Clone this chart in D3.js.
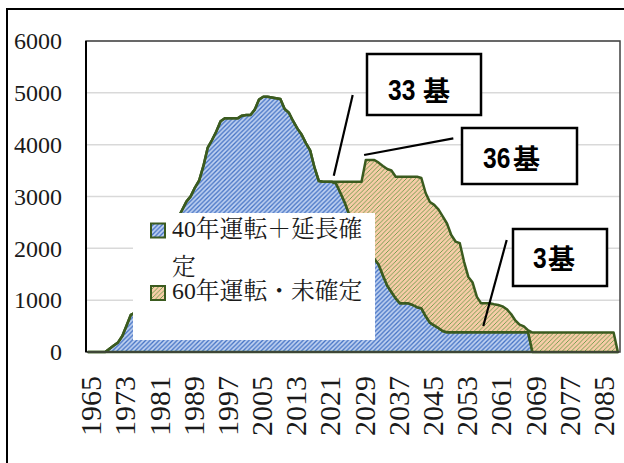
<!DOCTYPE html>
<html>
<head>
<meta charset="utf-8">
<script src="https://cdn.jsdelivr.net/npm/d3@7"></script>
<style>
  body { margin: 0; background: #fff; }
  .serif { font-family: "Liberation Serif", "Noto Serif CJK JP", serif; }
</style>
</head>
<body>
<svg id="chart" width="624" height="463"></svg>
<script>
// years on the category axis
const firstYear = 1965, lastYear = 2089;
const years = d3.range(firstYear, lastYear + 1);

// 40年運転＋延長確定 (万kW)
const blue = [
  0, 0, 0, 0, 0,             // 1965
  62, 125, 185, 309, 511,    // 1970
  717, 760, 880, 1180, 1500, // 1975
  1560, 1620, 1750, 1950, 2280,
  2460, 2580, 2740, 2901, 3003,
  3173, 3312, 3594, 3945, 4090, // 1990
  4255, 4452, 4508, 4508, 4508,
  4508, 4560, 4572, 4572, 4676, // 2000
  4871, 4925, 4925, 4909, 4894,
  4880, 4687, 4616, 4452, 4309, // 2010
  4190, 4026, 3883, 3555, 3299,
  3285, 3285, 3285, 3254, 3081, // 2020
  2899, 2681, 2410, 2250, 2100,
  1980, 1880, 1800, 1688, 1480, // 2030
  1283, 1157, 1034, 939, 939,
  939, 907, 864, 845, 694,      // 2040
  567, 513, 463, 405, 380,
  380, 380, 380, 380, 380,      // 2050
  380, 380, 380, 380, 380,
  380, 380, 380, 380, 380,      // 2060
  380, 380, 380, 380, 0,
  0, 0, 0, 0, 0,                // 2070
  0, 0, 0, 0, 0,
  0, 0, 0, 0, 0,                // 2080
  0, 0, 0, 0, 0
];

// 60年運転・未確定 (万kW)
const orange = [
  0, 0, 0, 0, 0,
  0, 0, 0, 0, 0,
  0, 0, 0, 0, 0,
  0, 0, 0, 0, 0,
  0, 0, 0, 0, 0,
  0, 0, 0, 0, 0,
  0, 0, 0, 0, 0,
  0, 0, 0, 0, 0,
  0, 0, 0, 0, 0,
  0, 0, 0, 0, 0,
  0, 0, 0, 0, 0,
  0, 0, 0, 31, 204,             // 2020
  386, 604, 875, 1035, 1185,
  1724, 1824, 1904, 1965, 2110, // 2030
  2247, 2344, 2348, 2443, 2443,
  2443, 2475, 2518, 2511, 2373, // 2040
  2326, 2325, 2287, 2213, 2099,
  1877, 1751, 1719, 1360, 1069, // 2050
  959, 683, 559, 559, 559,
  540, 527, 500, 446, 353,      // 2060
  228, 149, 116, 37, 375,
  375, 375, 375, 375, 375,      // 2070
  375, 375, 375, 375, 375,
  375, 375, 375, 375, 375,      // 2080
  375, 375, 375, 375, 0
];

const seriesNames = ["40年運転＋延長確定", "60年運転・未確定"];
const yTicks = [0, 1000, 2000, 3000, 4000, 5000, 6000];
const xTickYears = [1965, 1973, 1981, 1989, 1997, 2005, 2013, 2021, 2029, 2037, 2045, 2053, 2061, 2069, 2077, 2085];

// callouts: number, counter word, year and value the pointer touches
const calloutNum = ["33", "36", "3"];
const calloutWord = ["基", "基", "基"];
const calloutYear = [2022.5, 2029.6, 2057.5];
const calloutValue = [3400, 3800, 500];

const svg = d3.select("#chart");
const plot = { left: 86, right: 620, top: 41, bottom: 352 };

const x = d3.scalePoint().domain(years).range([plot.left, plot.right]).padding(0.5);
const xc = yr => x(firstYear) + (yr - firstYear) * x.step();
const y = d3.scaleLinear().domain([0, 6000]).range([plot.bottom, plot.top]);

const table = years.map((yr, i) => ({ year: yr, blue: blue[i], orange: orange[i] }));
const stacked = d3.stack().keys(["blue", "orange"])(table);

// hatch patterns
const defs = svg.append("defs");
function hatch(id, bg, fg, w) {
  const s = 4.5;
  const p = defs.append("pattern").attr("id", id)
    .attr("patternUnits", "userSpaceOnUse").attr("width", s).attr("height", s);
  p.append("rect").attr("width", s).attr("height", s).attr("fill", bg);
  p.append("path")
    .attr("d", `M-1,1 L1,-1 M0,${s} L${s},0 M${s - 1},${s + 1} L${s + 1},${s - 1}`)
    .attr("stroke", fg).attr("stroke-width", w);
}
hatch("hatchBlue", "#bfd1f1", "#4472c4", 1.3);
hatch("hatchOrange", "#f8cca8", "#6b9a48", 0.9);
const fills = ["url(#hatchBlue)", "url(#hatchOrange)"];
const outline = "#3b5b1f";

svg.append("rect").attr("width", 624).attr("height", 463).attr("fill", "#fff");

// gridlines
svg.append("g").selectAll("line").data(yTicks.filter(d => d > 0)).join("line")
  .attr("x1", plot.left).attr("x2", plot.right)
  .attr("y1", d => y(d)).attr("y2", d => y(d))
  .attr("stroke", "#d9d9d9").attr("stroke-width", 1.5);

// areas
const area = d3.area()
  .x(d => x(d.data.year))
  .y0(d => y(d[0]))
  .y1(d => y(d[1]));

svg.append("g").selectAll("path").data(stacked).join("path")
  .attr("d", area)
  .attr("fill", (d, i) => fills[i])
  .attr("stroke", outline)
  .attr("stroke-width", 2.5)
  .attr("stroke-linejoin", "round");

// plot frame
svg.append("rect")
  .attr("x", plot.left).attr("y", plot.top)
  .attr("width", plot.right - plot.left).attr("height", plot.bottom - plot.top)
  .attr("fill", "none").attr("stroke", "#404040").attr("stroke-width", 1.5);
svg.append("line")
  .attr("x1", plot.left).attr("x2", plot.left).attr("y1", plot.top).attr("y2", plot.bottom)
  .attr("stroke", "#000").attr("stroke-width", 2);

// y axis
const gy = svg.append("g").attr("transform", `translate(${plot.left},0)`)
  .call(d3.axisLeft(y).tickValues(yTicks).tickFormat(d3.format("d")).tickSize(0).tickPadding(24));
gy.select(".domain").remove();
gy.attr("font-family", null);
gy.selectAll("text")
  .attr("class", "serif")
  .style("font-size", "24px")
  .attr("fill", "#1a1a1a");

// x axis
const gx = svg.append("g").attr("transform", `translate(0,${plot.bottom})`)
  .call(d3.axisBottom(x).tickValues(xTickYears).tickSize(0));
gx.select(".domain").remove();
gx.attr("font-family", null);
gx.selectAll("text")
  .attr("transform", "rotate(-90)")
  .attr("x", -24).attr("y", 0).attr("dy", "0.42em")
  .style("text-anchor", "end")
  .attr("class", "serif")
  .style("font-size", "30px")
  .attr("fill", "#1a1a1a");

// legend
const lg = svg.append("g");
lg.append("rect").attr("x", 133).attr("y", 213).attr("width", 242).attr("height", 127).attr("fill", "#fff");
const markerY = [223.5, 286];
const textY = [[237, 275], [299]];
const lines = [["40年運転＋延長確", "定"], ["60年運転・未確定"]];
seriesNames.forEach((name, i) => {
  lg.append("rect").attr("x", 151).attr("y", markerY[i]).attr("width", 14).attr("height", 14)
    .attr("fill", fills[i]).attr("stroke", outline).attr("stroke-width", 2);
  lines[i].forEach((t, j) => {
    lg.append("text").attr("x", 172).attr("y", textY[i][j])
      .attr("class", "serif")
      .style("font-size", "23.8px").attr("fill", "#1a1a1a")
      .text(t);
  });
});

// callouts
const boxes = [
  { x: 367, y: 54, w: 114, h: 61, nx: 388, kx: 423, ty: 100, from: [352.7, 95] },
  { x: 462, y: 128, w: 115, h: 56, nx: 483, kx: 513, ty: 168, from: [453.3, 138.3] },
  { x: 513, y: 229, w: 94, h: 57, nx: 533, kx: 548, ty: 268, from: [506.7, 240] }
];
const cg = svg.append("g");
boxes.forEach((b, i) => {
  cg.append("line")
    .attr("x1", b.from[0]).attr("y1", b.from[1])
    .attr("x2", xc(calloutYear[i])).attr("y2", y(calloutValue[i]))
    .attr("stroke", "#000").attr("stroke-width", 2.2);
  cg.append("rect").attr("x", b.x).attr("y", b.y).attr("width", b.w).attr("height", b.h)
    .attr("fill", "#fff").attr("stroke", "#000").attr("stroke-width", 2.5);
  // condensed digits
  cg.append("text")
    .attr("transform", `translate(${b.nx},${b.ty}) scale(0.82,1)`)
    .style("font-family", "'Liberation Sans', Arial, sans-serif")
    .style("font-weight", "bold").style("font-size", "30px").attr("fill", "#000")
    .text(calloutNum[i]);
  cg.append("text").attr("x", b.kx).attr("y", b.ty + 1)
    .style("font-family", "'Noto Sans CJK JP', sans-serif")
    .style("font-weight", "bold").style("font-size", "27px").attr("fill", "#000")
    .text(calloutWord[i]);
});

// outer chart frame (partly cropped)
svg.append("path").attr("d", "M7,463 L7,9 L624,9")
  .attr("fill", "none").attr("stroke", "#000").attr("stroke-width", 2);
</script>
</body>
</html>
